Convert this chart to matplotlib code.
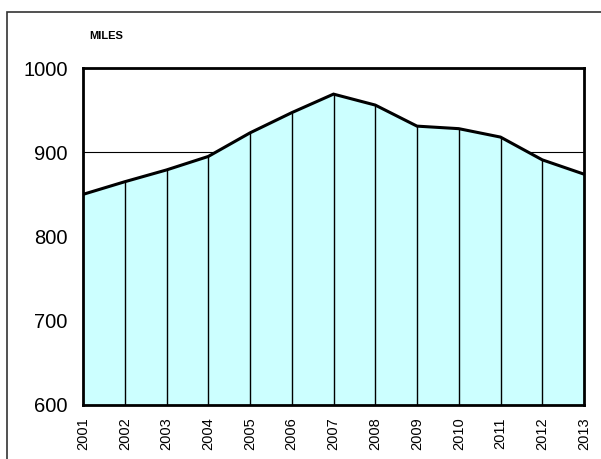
import matplotlib
matplotlib.use("Agg")
import matplotlib.pyplot as plt
from matplotlib.patches import Rectangle

plt.rcParams["font.family"] = ["Liberation Sans", "DejaVu Sans"]

# data
years = [2001, 2002, 2003, 2004, 2005, 2006, 2007, 2008, 2009, 2010, 2011, 2012, 2013]
miles = [850, 865, 879, 895, 923, 947, 969, 956, 931, 928, 918, 891, 874]
y_ticks = [600, 700, 800, 900, 1000]

W, H = 601, 459
fig = plt.figure(figsize=(W / 100, H / 100), dpi=100)

# outer frame, clipped at right and bottom like the original
fig.patches.append(Rectangle((7 / W, -0.1), 1.2, 1 - 12 / H + 0.1,
                             transform=fig.transFigure, fill=False,
                             edgecolor="#333333", lw=1.2))

left, right, top, bottom = 83, 584, 68, 405
ax = fig.add_axes([left / W, 1 - bottom / H, (right - left) / W, (bottom - top) / H])

ax.set_xlim(years[0], years[-1])
ax.set_ylim(600, 1000)

ax.yaxis.grid(True, color="black", lw=0.8, zorder=0)
ax.set_axisbelow(True)

ax.fill_between(years, 600, miles, color="#ccffff", zorder=1)
ax.vlines(years[1:-1], 600, miles[1:-1], color="black", lw=1.0, zorder=2)
ax.plot(years, miles, color="black", lw=2.2, zorder=3, solid_joinstyle="miter")

for s in ax.spines.values():
    s.set_linewidth(2)
    s.set_zorder(4)

ax.set_yticks(y_ticks)
ax.set_yticklabels([str(v) for v in y_ticks], fontsize=14.5)
ax.set_xticks(years)
ax.set_xticklabels([str(y) for y in years], rotation=90, fontsize=10.5)
ax.tick_params(axis="both", length=0)
ax.tick_params(axis="y", pad=11)
ax.tick_params(axis="x", pad=9)

fig.text(89 / W, 1 - 36 / H, "MILES", fontsize=8, fontweight="bold", va="center")

fig.savefig("out.png", dpi=100)
